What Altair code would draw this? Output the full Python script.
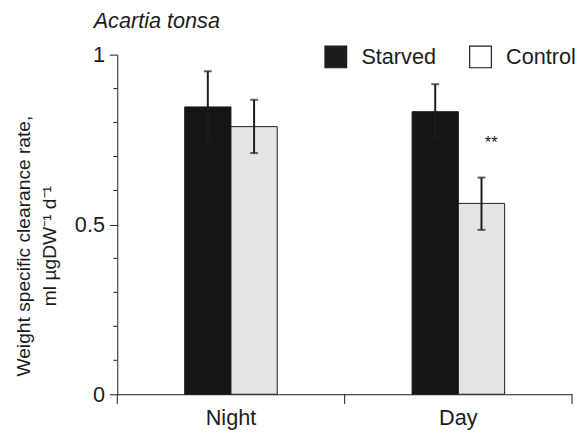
import altair as alt
import pandas as pd

period_order = ["Night", "Day"]
group_order = ["Starved", "Control"]

periods = ["Night", "Night", "Day", "Day"]
groups = ["Starved", "Control", "Starved", "Control"]
rate = [0.846, 0.788, 0.832, 0.562]
err_hi = [0.951, 0.867, 0.913, 0.638]
err_lo = [0.741, 0.710, 0.751, 0.484]
sig = ["", "", "", "**"]

y_major_ticks = [0, 0.5, 1]
y_minor_ticks = [0.1, 0.2, 0.3, 0.4, 0.6, 0.7, 0.8, 0.9]

df = pd.DataFrame({"period": periods, "group": groups, "rate": rate,
                   "hi": err_hi, "lo": err_lo, "sig": sig})
minor_df = pd.DataFrame({"rate": y_minor_ticks})

FONT = "Liberation Sans"
INK = "#1c1c1c"
FS = 22

x_enc = alt.X("period:N", sort=period_order,
              scale=alt.Scale(paddingInner=0, paddingOuter=0),
              axis=alt.Axis(title=None, ticks=False, labelFontSize=FS, labelPadding=14,
                            labelAngle=0, labelColor=INK, domainColor=INK, domainWidth=1))
# empty slots either side of the two bars inside each period band
xoff = alt.XOffset("group:N",
                   scale=alt.Scale(domain=["gapL", "Starved", "Control", "gapR"],
                                   paddingInner=0, paddingOuter=0.457))

y_axis = alt.Axis(
    values=y_major_ticks, format="~g",
    tickSize=8, tickColor=INK, domainColor=INK, labelColor=INK, labelFontSize=FS,
    labelPadding=5, labelOverlap=False, labelFlush=False, grid=False,
    title=["Weight specific clearance rate,", "ml \u00b5gDW\u207b\u00b9 d\u207b\u00b9"],
    titleFontSize=19.5, titleFontWeight="normal", titleColor=INK,
    titleLineHeight=26, titleX=-85, titleY=194, titleAngle=270,
    titleAlign="center", titleBaseline="bottom",
)
y_enc = alt.Y("rate:Q", scale=alt.Scale(domain=[0, 1], nice=False), axis=y_axis)

base = alt.Chart(df)

legend_layer = base.mark_square(size=2, opacity=1).encode(
    x=x_enc, xOffset=xoff, y=alt.datum(0.05),
    fill=alt.Fill("group:N", sort=group_order,
                  scale=alt.Scale(domain=group_order, range=[INK, "white"]),
                  legend=alt.Legend(title=None, orient="none", legendX=210, legendY=-10,
                                    direction="horizontal", symbolType="square",
                                    symbolSize=484, symbolStrokeColor=INK,
                                    symbolStrokeWidth=1.2, labelFontSize=FS,
                                    labelColor=INK, labelOffset=14, columnPadding=31,
                                    padding=0, labelFont=FONT)),
)

bars = base.mark_bar(stroke=INK, strokeWidth=1).encode(
    x=x_enc, xOffset=xoff, y=y_enc,
    fill=alt.Fill("group:N", sort=group_order,
                  scale=alt.Scale(domain=group_order, range=["#151515", "#e4e4e4"]),
                  legend=None),
)

err = base.mark_rule(color=INK, strokeWidth=2).encode(
    x=x_enc, xOffset=xoff, y="lo:Q", y2="hi:Q")
cap_hi = base.mark_tick(color=INK, thickness=2, size=8).encode(
    x=x_enc, xOffset=xoff, y="hi:Q")
cap_lo = base.mark_tick(color=INK, thickness=2, size=8).encode(
    x=x_enc, xOffset=xoff, y="lo:Q")
stars = base.mark_text(fontSize=17, color=INK, dy=-30, dx=10, baseline="alphabetic",
                       font=FONT).encode(
    x=x_enc, xOffset=xoff, y="hi:Q", text="sig:N")

minor = alt.Chart(minor_df).mark_rule(color=INK, strokeWidth=1).encode(
    y=y_enc, x=alt.value(-4), x2=alt.value(0))

tick_start = base.transform_filter(alt.datum.group == "Starved").mark_rule(
    color=INK, strokeWidth=1).encode(
    x=alt.X("period:N", sort=period_order, bandPosition=0),
    y=alt.value(345), y2=alt.value(355))
tick_end = base.transform_filter(
    (alt.datum.group == "Starved") & (alt.datum.period == "Day")).mark_rule(
    color=INK, strokeWidth=1).encode(
    x=alt.X("period:N", sort=period_order, bandPosition=1),
    y=alt.value(345), y2=alt.value(355))

chart = alt.layer(legend_layer, bars, err, cap_hi, cap_lo, stars, minor,
                  tick_start, tick_end).resolve_scale(
    fill="independent"
).properties(
    width=462, height=345,
    title=alt.TitleParams("Acartia tonsa", anchor="start", frame="group", fontStyle="italic",
                          fontSize=FS, fontWeight="normal", color=INK, dx=-24,
                          offset=-5, font=FONT),
    autosize=alt.AutoSizeParams(type="none"),
    padding={"left": 111, "top": 44, "right": 3, "bottom": 36},
).configure(font=FONT).configure_view(stroke=None)

chart.save("out.html", embed_options={"renderer": "svg", "actions": False})
